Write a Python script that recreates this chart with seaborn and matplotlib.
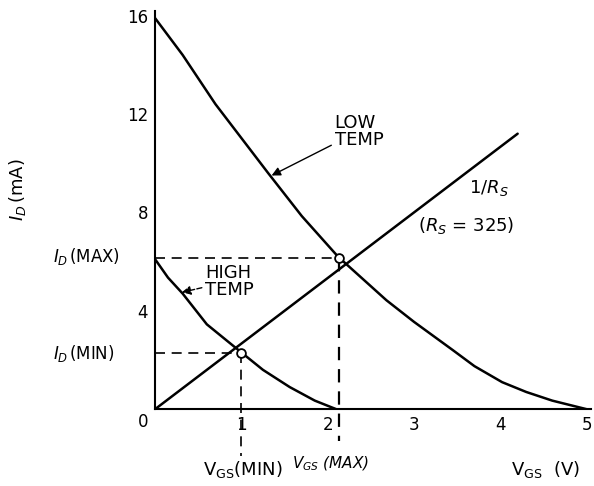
import pandas as pd
import seaborn as sns
import matplotlib.pyplot as plt

# curve values (V_GS in V, I_D in mA)
low_v = [0, 0.32, 0.7, 1.31, 1.7, 2.12, 2.68, 3.0, 3.45, 3.7, 4.02, 4.3, 4.6, 5.0]
low_i = [15.9, 14.4, 12.4, 9.6, 7.85, 6.2, 4.43, 3.55, 2.4, 1.75, 1.1, 0.7, 0.35, 0]
high_v = [0, 0.15, 0.32, 0.6, 0.95, 1.25, 1.56, 1.85, 2.1]
high_i = [6.1, 5.35, 4.7, 3.45, 2.45, 1.6, 0.9, 0.35, 0]
rs_v = [0, 4.2]
rs_i = [0, 11.2]
q_v = [1.0, 2.13]
q_i = [2.3, 6.15]
xticks = [0, 1, 2, 3, 4, 5]
yticks = [4, 8, 12, 16]

sns.set_style("white")
plt.rcParams['font.family'] = ['DejaVu Sans']
plt.rcParams['text.color'] = 'black'
plt.rcParams['xtick.color'] = 'black'
plt.rcParams['ytick.color'] = 'black'

df = pd.concat([
    pd.DataFrame({'v': low_v, 'i': low_i, 'curve': 'low'}),
    pd.DataFrame({'v': high_v, 'i': high_i, 'curve': 'high'}),
    pd.DataFrame({'v': rs_v, 'i': rs_i, 'curve': 'rs'}),
])

fig = plt.figure(figsize=(5.94, 4.86), dpi=100)
ax = fig.add_axes([0.261, 0.158, 0.734, 0.82])
sns.lineplot(data=df, x='v', y='i', units='curve', estimator=None, sort=False,
             color='black', lw=1.8, ax=ax)

# operating points and dashed projections
for v, i in zip(q_v, q_i):
    ax.plot([0, v], [i, i], ls=(0, (6, 4)), color='black', lw=1.2)
ax.plot([q_v[0]] * 2, [q_i[0], -1.9], ls=(0, (6, 4)), color='black', lw=1.2, clip_on=False)
ax.plot([q_v[1]] * 2, [q_i[1], -1.3], ls=(0, (6, 4)), color='black', lw=1.6, clip_on=False)
ax.scatter(q_v, q_i, s=40, facecolor='white', edgecolor='black', lw=1.3, zorder=5)

ax.set_xlim(0, 5.05)
ax.set_ylim(0, 16.2)
ax.set_xticks(xticks)
ax.set_yticks(yticks)
ax.set_xticklabels(['', '1', '2', '3', '4', '5'])
ax.tick_params(direction='in', length=9, width=1.2, labelsize=12, pad=5)
ax.set_xlabel('')
ax.set_ylabel('')
for s in ['top', 'right']:
    ax.spines[s].set_visible(False)
for s in ['left', 'bottom']:
    ax.spines[s].set_linewidth(1.5)
    ax.spines[s].set_color('black')

fig.text(0.241, 0.132, '0', fontsize=12, ha='center', va='center')
fig.text(0.03, 0.61, r'$I_D\,$(mA)', rotation=90, fontsize=13, ha='center', va='center')
fig.text(0.09, 0.473, r'$I_{D\,}$(MAX)', fontsize=12, ha='left', va='center')
fig.text(0.09, 0.272, r'$I_{D\,}$(MIN)', fontsize=12, ha='left', va='center')
fig.text(0.342, 0.033, r'V$_{\rm GS}$(MIN)', fontsize=13, ha='left', va='center')
fig.text(0.492, 0.045, r'$V_{GS}$ (MAX)', fontsize=11, ha='left', va='center', style='italic')
fig.text(0.86, 0.033, r'V$_{\rm GS}$  (V)', fontsize=13, ha='left', va='center')

ax.annotate('LOW\nTEMP', xy=(1.35, 9.5), xytext=(2.08, 11.3), fontsize=13,
            ha='left', va='center', linespacing=0.95,
            arrowprops=dict(arrowstyle='-|>', color='black', lw=1.0, shrinkA=0, shrinkB=0))
ax.annotate('HIGH\nTEMP', xy=(0.31, 4.75), xytext=(0.58, 5.2), fontsize=13,
            ha='left', va='center', linespacing=0.95,
            arrowprops=dict(arrowstyle='-|>', color='black', lw=1.0, ls='--', shrinkA=0, shrinkB=0))
ax.text(3.64, 9.0, r'1/$R_S$', fontsize=13, ha='left', va='center')
ax.text(3.05, 7.45, r'($R_S$ = 325)', fontsize=13, ha='left', va='center')

fig.savefig('out.png', dpi=100)
